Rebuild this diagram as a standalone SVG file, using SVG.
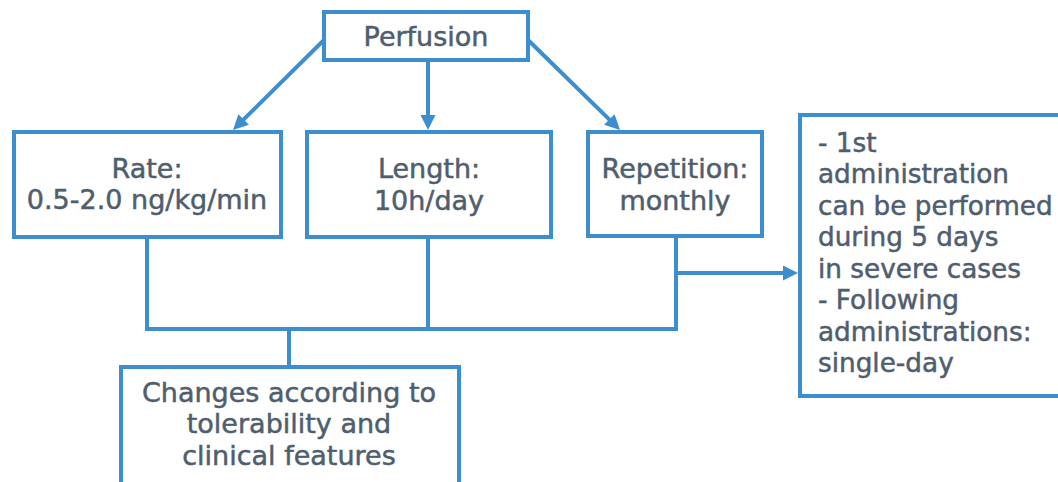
<svg xmlns="http://www.w3.org/2000/svg" width="1058" height="482" viewBox="0 0 1058 482">
<style>
.box{fill:#ffffff;stroke:#3d8ecf;stroke-width:4}
.ln{fill:none;stroke:#3d8ecf;stroke-width:4}
.t{font-family:"DejaVu Sans",sans-serif;font-size:27px;fill:#4f5e6e;stroke:#4f5e6e;stroke-width:0.5}
.s{font-size:26.3px}
.c{text-anchor:middle}
</style>
<defs>
<marker id="ah" markerUnits="userSpaceOnUse" markerWidth="15" markerHeight="15" refX="7" refY="7.5" orient="auto" viewBox="0 0 15 15">
<path d="M0,0 L15,7.5 L0,15 z" fill="#3d8ecf"/>
</marker>
</defs>
<g id="connectors">
<line class="ln" x1="326" y1="38" x2="238.7" y2="124.4" marker-end="url(#ah)"/>
<line class="ln" x1="428" y1="60" x2="428" y2="122" marker-end="url(#ah)"/>
<line class="ln" x1="526" y1="38" x2="614.3" y2="124.4" marker-end="url(#ah)"/>
<polyline class="ln" points="147,237 147,329 676,329"/>
<line class="ln" x1="428" y1="237" x2="428" y2="329"/>
<line class="ln" x1="676" y1="236" x2="676" y2="331"/>
<line class="ln" x1="289" y1="329" x2="289" y2="367"/>
<line class="ln" x1="674" y1="273" x2="790" y2="273" marker-end="url(#ah)"/>
</g>
<g id="perfusion">
<rect class="box" x="324" y="12" width="204" height="48"/>
<text class="t c" x="426" y="46">Perfusion</text>
</g>
<g id="rate">
<rect class="box" x="14" y="132" width="267" height="105"/>
<text class="t c" x="147" y="178">Rate:</text>
<text class="t c" x="147" y="209">0.5-2.0 ng/kg/min</text>
</g>
<g id="length">
<rect class="box" x="307" y="132" width="244" height="105"/>
<text class="t c" x="429" y="178">Length:</text>
<text class="t c" x="429" y="210">10h/day</text>
</g>
<g id="repetition">
<rect class="box" x="588" y="132" width="174" height="104"/>
<text class="t c" x="675" y="178">Repetition:</text>
<text class="t c" x="675" y="210">monthly</text>
</g>
<g id="details">
<rect class="box" x="800" y="115" width="280" height="281"/>
<text class="t s" x="818" y="152">- 1st</text>
<text class="t s" x="818" y="183">administration</text>
<text class="t s" x="818" y="215">can be performed</text>
<text class="t s" x="818" y="246">during 5 days</text>
<text class="t s" x="818" y="278">in severe cases</text>
<text class="t s" x="818" y="309">- Following</text>
<text class="t s" x="818" y="341">administrations:</text>
<text class="t s" x="818" y="372">single-day</text>
</g>
<g id="changes">
<rect class="box" x="121" y="367" width="338" height="122"/>
<text class="t c" x="289" y="402">Changes according to</text>
<text class="t c" x="289" y="433">tolerability and</text>
<text class="t c" x="289" y="465">clinical features</text>
</g>
</svg>
